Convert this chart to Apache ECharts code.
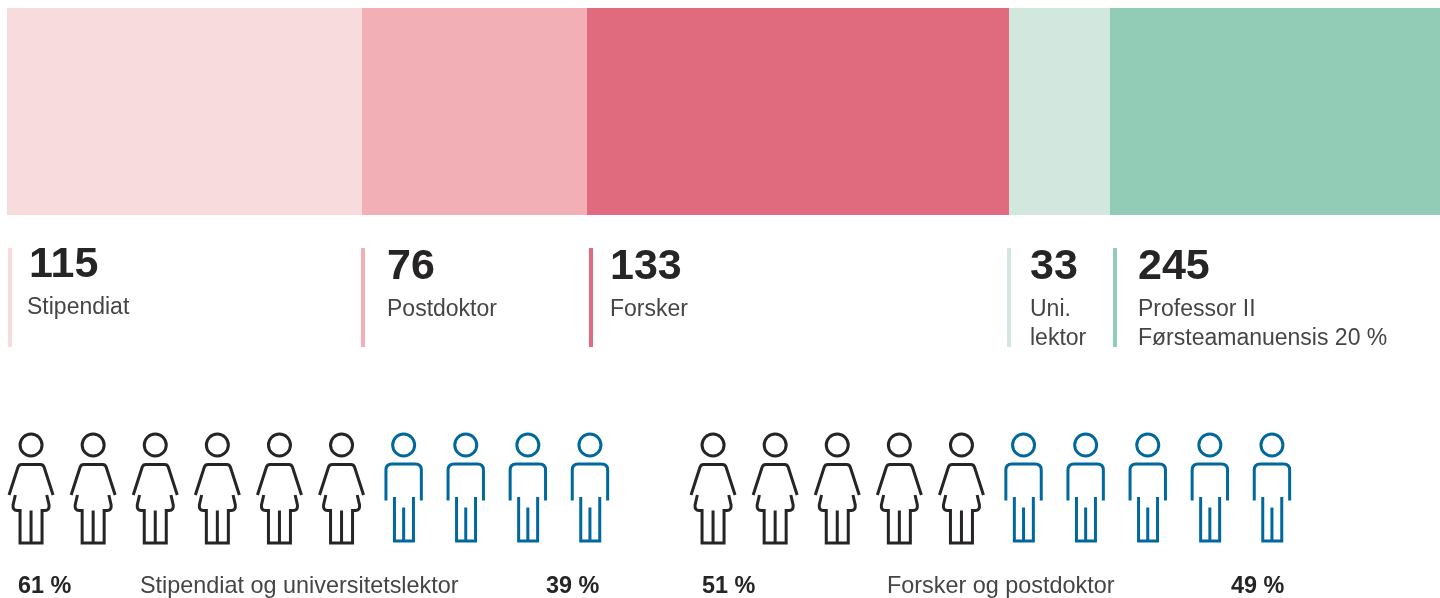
<!DOCTYPE html>
<html lang="en">

<head>
    <meta charset="UTF-8">
    <title>Stipendiat, postdoktor, forsker</title>
    <script src="https://cdn.jsdelivr.net/npm/echarts@6/dist/echarts.min.js"></script>
    <style>
        * {
            padding: 0;
            margin: 0;
        }

        #chart {
            width: 1440px;
            height: 598px;
            background: #fff;
        }
    </style>
</head>

<body>
    <div id="chart"></div>
    <script type="text/javascript">
        // data
        const roles = ['Stipendiat', 'Postdoktor', 'Forsker', 'Uni.\nlektor', 'Professor II\nFørsteamanuensis 20 %'];
        const counts = [115, 76, 133, 33, 245];
        // the last block is drawn shorter than its count, so the lengths are read separately
        const barLengths = [355, 225, 422, 101, 330];
        const groupTitles = ['Stipendiat og universitetslektor', 'Forsker og postdoktor'];
        const womenShare = [61, 51];
        const menShare = [39, 49];
        const womenIcons = [6, 5];
        const menIcons = [4, 5];
        const iconSlots = ['1', '2', '3', '4', '5', '6', '7', '8', '9', '10'];

        // colours and layout
        const barColors = ['#f8dcdd', '#f2b0b6', '#e06b7e', '#d2e8df', '#92cbb6'];
        const inkColor = '#262425';
        const lightInk = '#454545';
        const blue = '#00689d';
        const fontName = '"Liberation Sans", Arial, sans-serif';
        const accentX = [8, 361, 589, 1007, 1113];
        const numberX = [29, 387, 610, 1030, 1138];
        const textX = [27, 387, 610, 1030, 1138];
        const textShift = [-2, 0, 0, 0, 0];
        const groupLeft = [0, 682];
        const shareX = [[18, 546], [702, 1231]];
        const titleX = [140, 887];

        const womanPath = 'path://M33 11A11 11 0 1 1 11 11A11 11 0 1 1 33 11Z' +
            'M0 61L9 33Q10 30.500 12.500 30.500L31.500 30.500Q34 30.500 35 33L44 61' +
            'M6.300 61L4 71Q3.500 76.500 8 76.500L11 76.500L11 109L33 109L33 76.500L36 76.500Q40.500 76.500 40 71L37.700 61' +
            'M22 76.500L22 109';
        const manPath = 'path://M28.700 11A11 11 0 1 1 6.700 11A11 11 0 1 1 28.700 11Z' +
            'M0 66.500L0 36Q0 30 6 30L29.400 30Q35.400 30 35.400 36L35.400 66.500' +
            'M8.500 63L8.500 107L27.500 107L27.500 63' +
            'M17.700 73.500L17.700 107';

        const grids = [{ left: 7, top: 8, width: 1433, height: 207 }];
        const xAxes = [{
            type: 'value', gridIndex: 0, min: 0,
            max: barLengths.reduce((a, b) => a + b, 0),
            show: false
        }];
        const yAxes = [{ type: 'category', gridIndex: 0, data: ['total'], show: false }];

        const series = roles.map((role, i) => ({
            type: 'bar',
            name: role,
            stack: 'total',
            xAxisIndex: 0,
            yAxisIndex: 0,
            barWidth: '100%',
            itemStyle: { color: barColors[i] },
            data: [barLengths[i]],
            silent: true
        }));

        const slotRange = (from, n) => Array.from({ length: n }, (_, k) => [iconSlots[from + k], 'row']);

        groupTitles.forEach((title, g) => {
            grids.push({ left: groupLeft[g], top: 434, width: 621, height: 109 });
            xAxes.push({ type: 'category', gridIndex: g + 1, data: iconSlots, show: false });
            yAxes.push({ type: 'category', gridIndex: g + 1, data: ['row'], show: false });
            series.push({
                type: 'scatter',
                name: title + ' kvinner',
                xAxisIndex: g + 1,
                yAxisIndex: g + 1,
                symbol: womanPath,
                symbolSize: 109,
                symbolKeepAspect: true,
                itemStyle: { color: 'rgba(0,0,0,0)', borderColor: inkColor, borderWidth: 3, opacity: 1 },
                data: slotRange(0, womenIcons[g]),
                silent: true
            }, {
                type: 'scatter',
                name: title + ' menn',
                xAxisIndex: g + 1,
                yAxisIndex: g + 1,
                symbol: manPath,
                symbolSize: 107,
                symbolKeepAspect: true,
                symbolOffset: [0, -1],
                itemStyle: { color: 'rgba(0,0,0,0)', borderColor: blue, borderWidth: 3, opacity: 1 },
                data: slotRange(womenIcons[g], menIcons[g]),
                silent: true
            });
        });

        // callouts under the bar and captions under the figures
        const graphic = [];
        roles.forEach((role, i) => {
            graphic.push({
                type: 'rect',
                shape: { x: accentX[i], y: 248, width: 4, height: 99 },
                style: { fill: barColors[i] }
            }, {
                type: 'text', x: numberX[i], y: 246 + textShift[i],
                style: { text: String(counts[i]), font: 'bold 43px ' + fontName, fill: inkColor }
            }, {
                type: 'text', x: textX[i], y: 295 + textShift[i],
                style: { text: role, font: '23px ' + fontName, lineHeight: 29, fill: lightInk }
            });
        });
        groupTitles.forEach((title, g) => {
            graphic.push({
                type: 'text', x: shareX[g][0], y: 575,
                style: { text: womenShare[g] + ' %', font: 'bold 23.4px ' + fontName, fill: inkColor }
            }, {
                type: 'text', x: titleX[g], y: 575,
                style: { text: title, font: '23.4px ' + fontName, fill: lightInk }
            }, {
                type: 'text', x: shareX[g][1], y: 575,
                style: { text: menShare[g] + ' %', font: 'bold 23.4px ' + fontName, fill: inkColor }
            });
        });

        const myChart = echarts.init(document.getElementById('chart'), null, { renderer: 'canvas' });
        myChart.setOption({
            animation: false,
            backgroundColor: '#fff',
            tooltip: { show: false },
            grid: grids,
            xAxis: xAxes,
            yAxis: yAxes,
            series: series,
            graphic: graphic
        });
    </script>
</body>

</html>
